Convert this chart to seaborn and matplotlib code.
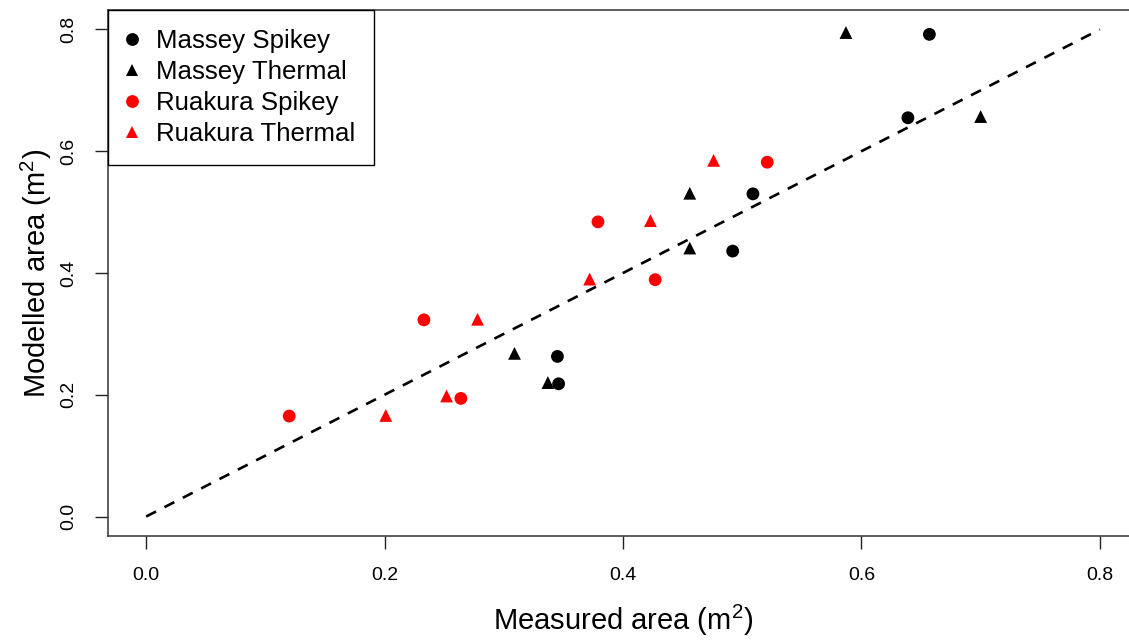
import matplotlib
matplotlib.use('Agg')
import matplotlib.pyplot as plt
import seaborn as sns
import pandas as pd

# measured vs modelled area
massey_spikey_x = [0.657, 0.639, 0.509, 0.492, 0.345, 0.346]
massey_spikey_y = [0.792, 0.655, 0.530, 0.436, 0.263, 0.218]
massey_thermal_x = [0.587, 0.700, 0.456, 0.456, 0.309, 0.337]
massey_thermal_y = [0.795, 0.657, 0.531, 0.441, 0.268, 0.220]
ruakura_spikey_x = [0.521, 0.379, 0.427, 0.233, 0.264, 0.120]
ruakura_spikey_y = [0.582, 0.484, 0.389, 0.323, 0.194, 0.165]
ruakura_thermal_x = [0.476, 0.423, 0.372, 0.278, 0.252, 0.201]
ruakura_thermal_y = [0.585, 0.486, 0.390, 0.324, 0.198, 0.166]

groups = ['Massey Spikey', 'Massey Thermal', 'Ruakura Spikey', 'Ruakura Thermal']
ticks = [0.0, 0.2, 0.4, 0.6, 0.8]
tick_labels = ['0.0', '0.2', '0.4', '0.6', '0.8']


def build_df():
    df = {'Measured': [], 'Modelled': [], 'Group': []}
    for name, xs, ys in zip(groups,
                            [massey_spikey_x, massey_thermal_x, ruakura_spikey_x, ruakura_thermal_x],
                            [massey_spikey_y, massey_thermal_y, ruakura_spikey_y, ruakura_thermal_y]):
        for x, y in zip(xs, ys):
            df['Measured'].append(x)
            df['Modelled'].append(y)
            df['Group'].append(name)
    return pd.DataFrame.from_dict(df)


def main():
    df = build_df()

    sns.set_style('white')
    plt.rcParams['font.family'] = ['Liberation Sans', 'DejaVu Sans']
    plt.rcParams['mathtext.fontset'] = 'custom'
    plt.rcParams['mathtext.rm'] = 'Liberation Sans'
    plt.rcParams['mathtext.it'] = 'Liberation Sans'
    plt.rcParams['text.color'] = 'black'
    plt.rcParams['axes.labelcolor'] = 'black'

    fig = plt.figure(figsize=(11.29, 6.4), dpi=100)
    ax = fig.add_axes([108 / 1129, 1 - 536 / 640, (1138 - 108) / 1129, (536 - 10) / 640])

    palette = {'Massey Spikey': 'black', 'Massey Thermal': 'black',
               'Ruakura Spikey': '#ff0000', 'Ruakura Thermal': '#ff0000'}
    markers = {'Massey Spikey': 'o', 'Massey Thermal': '^',
               'Ruakura Spikey': 'o', 'Ruakura Thermal': '^'}

    # 1:1 line
    ax.plot([0, 0.8], [0, 0.8], color='black', lw=1.9, dashes=(4.2, 3.6), zorder=1)

    sns.scatterplot(data=df, x='Measured', y='Modelled', hue='Group', style='Group',
                    hue_order=groups, style_order=groups,
                    palette=palette, markers=markers, s=85, linewidth=0, ax=ax, zorder=3)

    ax.set_xlim(-0.032, 0.832)
    ax.set_ylim(-0.032, 0.832)
    ax.set_xticks(ticks, labels=tick_labels, fontsize=14)
    ax.set_yticks(ticks, labels=tick_labels, fontsize=14, rotation=90, va='center')
    ax.tick_params(bottom=True, left=True, direction='out', length=9.5, width=1,
                   color='#222222', pad=13, labelcolor='black')
    for sp in ax.spines.values():
        sp.set_color('#333333')
        sp.set_linewidth(1.1)

    ax.set_xlabel('Measured area (m$^2$)', fontsize=21, labelpad=13)
    ax.set_ylabel('Modelled area (m$^2$)', fontsize=21, labelpad=4)

    handles, labels = ax.get_legend_handles_labels()
    leg = ax.legend(handles, labels, loc='upper left', bbox_to_anchor=(0, 1), borderaxespad=0,
                    fontsize=18.6, frameon=True, fancybox=False, framealpha=1, edgecolor='black',
                    handletextpad=0.75, labelspacing=0.28, borderpad=0.72, markerscale=1.0,
                    handlelength=0.4)
    leg.get_frame().set_linewidth(1.0)

    plt.savefig('out.png', dpi=100)
    plt.close()


if __name__ == '__main__':
    main()
